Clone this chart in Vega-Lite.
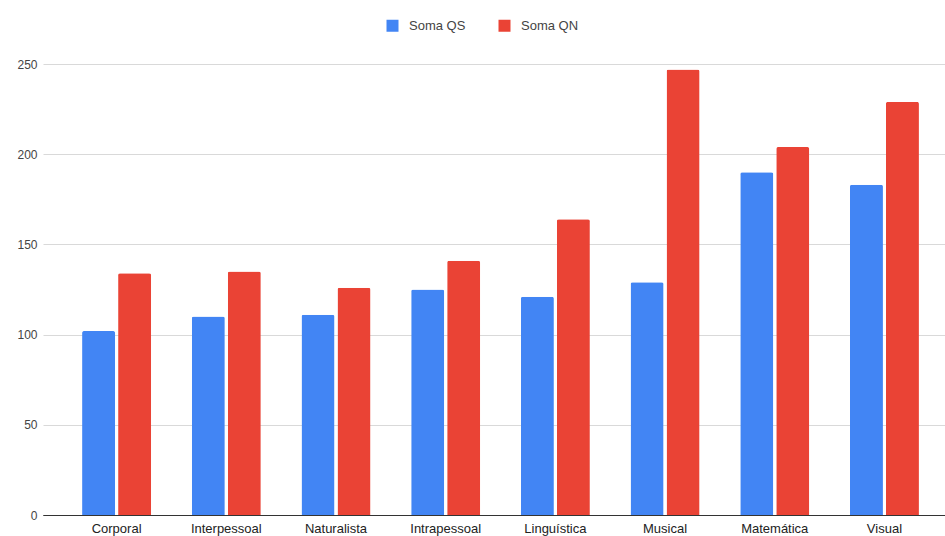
{
  "$schema": "https://vega.github.io/schema/vega-lite/v6.json",
  "autosize": "none",
  "width": 902,
  "height": 451,
  "padding": {"left": 43, "top": 64, "right": 0, "bottom": 21},
  "background": "#ffffff",
  "config": {
    "view": {"stroke": null},
    "font": "Liberation Sans"
  },
  "data": {
    "values": [
      {"inteligencia": "Corporal", "serie": "Soma QS", "valor": 102},
      {"inteligencia": "Corporal", "serie": "Soma QN", "valor": 134},
      {"inteligencia": "Interpessoal", "serie": "Soma QS", "valor": 110},
      {"inteligencia": "Interpessoal", "serie": "Soma QN", "valor": 135},
      {"inteligencia": "Naturalista", "serie": "Soma QS", "valor": 111},
      {"inteligencia": "Naturalista", "serie": "Soma QN", "valor": 126},
      {"inteligencia": "Intrapessoal", "serie": "Soma QS", "valor": 125},
      {"inteligencia": "Intrapessoal", "serie": "Soma QN", "valor": 141},
      {"inteligencia": "Linguística", "serie": "Soma QS", "valor": 121},
      {"inteligencia": "Linguística", "serie": "Soma QN", "valor": 164},
      {"inteligencia": "Musical", "serie": "Soma QS", "valor": 129},
      {"inteligencia": "Musical", "serie": "Soma QN", "valor": 247},
      {"inteligencia": "Matemática", "serie": "Soma QS", "valor": 190},
      {"inteligencia": "Matemática", "serie": "Soma QN", "valor": 204},
      {"inteligencia": "Visual", "serie": "Soma QS", "valor": 183},
      {"inteligencia": "Visual", "serie": "Soma QN", "valor": 229}
    ]
  },
  "mark": {"type": "bar", "cornerRadiusTopLeft": 2, "cornerRadiusTopRight": 2},
  "encoding": {
    "x": {
      "field": "inteligencia",
      "type": "nominal",
      "sort": null,
      "scale": {"paddingInner": 0.371, "paddingOuter": 0.297, "align": 0.6},
      "axis": {
        "title": null,
        "labelAngle": 0,
        "ticks": false,
        "domain": true,
        "domainColor": "#333333",
        "domainWidth": 1,
        "labelColor": "#222222",
        "labelFontSize": 13,
        "labelPadding": 7
      }
    },
    "xOffset": {
      "field": "serie",
      "type": "nominal",
      "sort": ["Soma QS", "Soma QN"],
      "scale": {"paddingInner": 0.083, "paddingOuter": 0}
    },
    "y": {
      "field": "valor",
      "type": "quantitative",
      "scale": {"domain": [0, 250], "nice": false},
      "axis": {
        "title": null,
        "values": [0, 50, 100, 150, 200, 250],
        "ticks": false,
        "domain": false,
        "grid": true,
        "gridColor": {"condition": {"test": "datum.value === 0", "value": "#333333"}, "value": "#d9d9d9"},
        "gridWidth": 1,
        "labelColor": "#444444",
        "labelFontSize": 12,
        "labelPadding": 6
      }
    },
    "color": {
      "field": "serie",
      "type": "nominal",
      "sort": ["Soma QS", "Soma QN"],
      "scale": {"domain": ["Soma QS", "Soma QN"], "range": ["#4285F4", "#EA4335"]},
      "legend": {
        "title": null,
        "orient": "none",
        "direction": "horizontal",
        "legendX": 343,
        "legendY": -45,
        "symbolType": "square",
        "symbolSize": 144,
        "symbolStrokeWidth": 0,
        "labelFontSize": 13,
        "labelColor": "#444444",
        "labelOffset": 10,
        "columnPadding": 32
      }
    }
  }
}
